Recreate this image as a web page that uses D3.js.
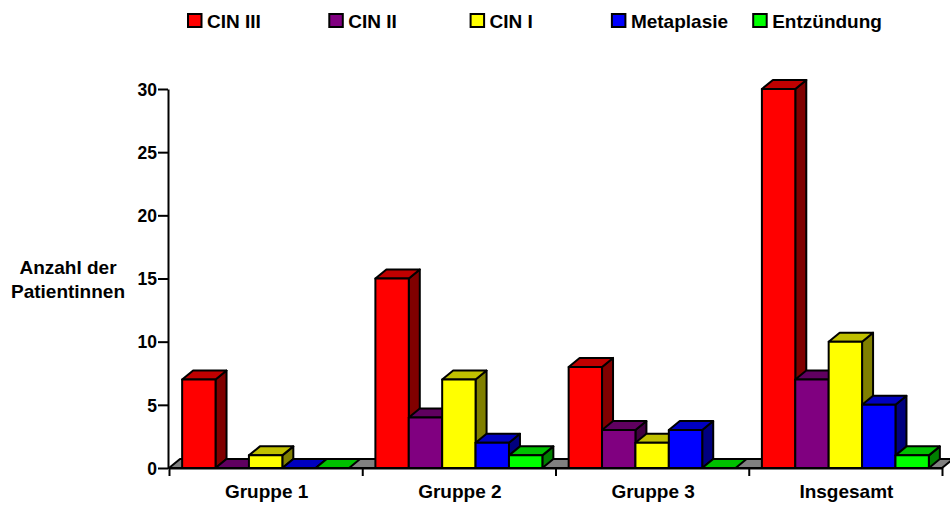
<!DOCTYPE html>
<html>
<head>
<meta charset="utf-8">
<script src="https://cdn.jsdelivr.net/npm/d3@7"></script>
<style>
  body { margin: 0; background: #fff; }
  text { font-family: "Liberation Sans", Arial, sans-serif; font-weight: bold; fill: #000; }
</style>
</head>
<body>
<svg id="chart" width="950" height="507"></svg>
<script>
const groups = ['Gruppe 1', 'Gruppe 2', 'Gruppe 3', 'Insgesamt'];
const series = ['CIN III', 'CIN II', 'CIN I', 'Metaplasie', 'Entzündung'];
const cin3 = [7, 15, 8, 30];
const cin2 = [0, 4, 3, 7];
const cin1 = [1, 7, 2, 10];
const metaplasie = [0, 2, 3, 5];
const entzuendung = [0, 1, 0, 1];
const yTicks = [0, 5, 10, 15, 20, 25, 30];

const values = [cin3, cin2, cin1, metaplasie, entzuendung];

// front / top / side shades per series
const frontColor = ['#ff0000', '#800080', '#ffff00', '#0000ff', '#00ff00'];
const topColor = ['#c00000', '#600060', '#c0c000', '#0000c0', '#00c000'];
const sideColor = ['#800000', '#400040', '#808000', '#000080', '#008000'];

const depth = { dx: 11, dy: 9 };
const plot = { left: 169, right: 942, top: 89, bottom: 468 };

const svg = d3.select('#chart');

const x0 = d3.scaleBand()
  .domain(groups)
  .range([plot.left, plot.right])
  .paddingInner(0.136)
  .paddingOuter(0.068);

const x1 = d3.scaleBand()
  .domain(series)
  .range([0, x0.bandwidth()]);

const y = d3.scaleLinear()
  .domain([0, 30])
  .range([plot.bottom, plot.top]);

// floor
const y0 = y(0);
svg.append('path')
  .attr('d', `M${plot.left},${y0}L${plot.right},${y0}L${plot.right + depth.dx},${y0 - depth.dy}L${plot.left + depth.dx},${y0 - depth.dy}Z`)
  .attr('fill', '#808080')
  .attr('stroke', '#000')
  .attr('stroke-width', 2)
  .attr('stroke-linejoin', 'round');

// bars, left to right so later ones hide earlier side faces
const bars = [];
groups.forEach((g, gi) => {
  series.forEach((s, si) => {
    bars.push({ g, s, si, v: values[si][gi] });
  });
});

const barG = svg.append('g')
  .attr('stroke', '#000')
  .attr('stroke-width', 2)
  .attr('stroke-linejoin', 'round');

bars.forEach((d) => {
  const xl = x0(d.g) + x1(d.s);
  const xr = xl + x1.bandwidth();
  const yt = y(d.v);
  const { dx, dy } = depth;
  const b = barG.append('g');
  if (d.v > 0) {
    b.append('path')
      .attr('d', `M${xr},${yt}L${xr + dx},${yt - dy}L${xr + dx},${y0 - dy}L${xr},${y0}Z`)
      .attr('fill', sideColor[d.si]);
  }
  b.append('path')
    .attr('d', `M${xl},${yt}L${xr},${yt}L${xr + dx},${yt - dy}L${xl + dx},${yt - dy}Z`)
    .attr('fill', topColor[d.si]);
  if (d.v > 0) {
    b.append('rect')
      .attr('x', xl)
      .attr('y', yt)
      .attr('width', x1.bandwidth())
      .attr('height', y0 - yt)
      .attr('fill', frontColor[d.si]);
  }
});

// y axis
const yAxis = svg.append('g')
  .attr('transform', `translate(${plot.left - 1},0)`)
  .call(d3.axisLeft(y).tickValues(yTicks).tickSize(10).tickSizeOuter(0).tickPadding(1));
yAxis.select('.domain').attr('stroke', '#000').attr('stroke-width', 2);
yAxis.selectAll('.tick line').attr('stroke', '#000').attr('stroke-width', 2);
yAxis.selectAll('.tick text')
  .attr('font-family', '"Liberation Sans", Arial, sans-serif')
  .attr('font-weight', 'bold')
  .attr('font-size', 17.5)
  .attr('dy', '0.36em');

// x axis: line with ticks at the group boundaries
const xb = d3.scaleLinear().domain([0, groups.length]).range([plot.left, plot.right]);
const xAxis = svg.append('g')
  .attr('transform', `translate(0,${y0})`)
  .call(d3.axisBottom(xb).ticks(groups.length).tickSize(8).tickSizeOuter(0).tickFormat(''));
xAxis.select('.domain').attr('stroke', '#000').attr('stroke-width', 2);
xAxis.selectAll('.tick line').attr('stroke', '#000').attr('stroke-width', 2);

svg.append('g')
  .selectAll('text')
  .data(groups)
  .join('text')
  .attr('x', (d, i) => (xb(i) + xb(i + 1)) / 2 + 1)
  .attr('y', 498)
  .attr('text-anchor', 'middle')
  .attr('font-size', 19)
  .text((d) => d);

// y title
svg.append('text')
  .attr('x', 68)
  .attr('text-anchor', 'middle')
  .attr('font-size', 19)
  .call((t) => {
    t.append('tspan').attr('x', 68).attr('y', 274).text('Anzahl der');
    t.append('tspan').attr('x', 68).attr('y', 298).text('Patientinnen');
  });

// legend
const legend = svg.append('g')
  .selectAll('g')
  .data(series)
  .join('g')
  .attr('transform', (d, i) => `translate(${188 + i * 141.3},14)`);
legend.append('rect')
  .attr('width', 13.5)
  .attr('height', 13)
  .attr('fill', (d, i) => frontColor[i])
  .attr('stroke', '#000')
  .attr('stroke-width', 2);
legend.append('text')
  .attr('x', 19)
  .attr('y', 13.5)
  .attr('font-size', 19)
  .text((d) => d);
</script>
</body>
</html>
